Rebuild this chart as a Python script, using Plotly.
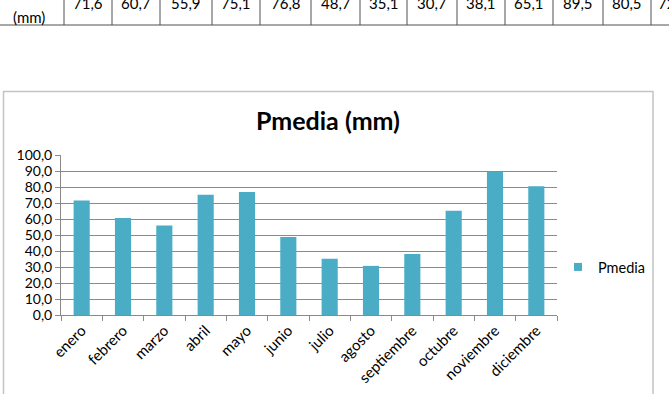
import plotly.graph_objects as go

# ---- data ----
months = ["enero", "febrero", "marzo", "abril", "mayo", "junio", "julio",
          "agosto", "septiembre", "octubre", "noviembre", "diciembre"]
pmedia = [71.6, 60.7, 55.9, 75.1, 76.8, 48.7, 35.1, 30.7, 38.1, 65.1, 89.5, 80.5]
y_ticks = [0, 10, 20, 30, 40, 50, 60, 70, 80, 90, 100]
series_name = "Pmedia"
chart_title = "Pmedia (mm)"
table_row_label = "(mm)"

# ---- layout helpers (pixel -> paper) ----
W, H = 669, 394
ML, MR, MT, MB = 61, 112, 155, 79
PW, PH = W - ML - MR, H - MT - MB


def px(x):
    return (x - ML) / PW


def py(y):
    return (H - MB - y) / PH


BAR = "#4BACC6"
GRID = "#8a8a8a"
FONT = "Lato"


def fmt(v):
    return f"{v:.1f}".replace(".", ",")


fig = go.Figure()
fig.add_trace(go.Bar(x=months, y=pmedia, name=series_name, marker_color=BAR,
                     marker_line_width=0, showlegend=False))
fig.add_trace(go.Scatter(x=[None], y=[None], mode="markers", name=series_name,
                         marker=dict(symbol="square", size=8, color=BAR)))

shapes = []
annotations = []

# chart outer border
shapes.append(dict(type="rect", xref="paper", yref="paper",
                   x0=px(3.5), x1=px(653), y0=py(91.5), y1=py(400),
                   line=dict(color="#c4c4c4", width=1.5), layer="below"))

# table fragment at top
cell_edges = [64, 112, 160, 212, 260, 311, 360, 407, 457, 505, 553, 603, 651]
shapes.append(dict(type="line", xref="paper", yref="paper",
                   x0=px(0), x1=px(669), y0=py(25), y1=py(25),
                   line=dict(color="#505050", width=1)))
for e in cell_edges:
    shapes.append(dict(type="line", xref="paper", yref="paper",
                       x0=px(e), x1=px(e), y0=py(-2), y1=py(25),
                       line=dict(color="#505050", width=1)))
annotations.append(dict(text=table_row_label, xref="paper", yref="paper",
                        x=px(29), y=py(16.5), xanchor="center", yanchor="middle",
                        showarrow=False, font=dict(family=FONT, size=15, color="#000")))
for i, v in enumerate(pmedia):
    cx = (cell_edges[i] + cell_edges[i + 1]) / 2
    annotations.append(dict(text=fmt(v), xref="paper", yref="paper",
                            x=px(cx), y=py(3), xanchor="center", yanchor="middle",
                            showarrow=False, font=dict(family=FONT, size=15, color="#000")))
annotations.append(dict(text=fmt(sum(pmedia)), xref="paper", yref="paper",
                        x=px(656), y=py(3), xanchor="left", yanchor="middle",
                        showarrow=False, font=dict(family=FONT, size=15, color="#000")))

fig.update_layout(
    width=W, height=H,
    margin=dict(l=ML, r=MR, t=MT, b=MB, pad=0, autoexpand=False),
    paper_bgcolor="white", plot_bgcolor="white",
    separators=", ",
    font=dict(family=FONT, size=14, color="#000"),
    title=dict(text=chart_title, xref="paper", x=px(328), xanchor="center",
               yref="container", y=1 - 121 / H, yanchor="middle",
               font=dict(family=FONT, size=25, color="#000", weight="bold")),
    bargap=0.61,
    showlegend=True,
    legend=dict(x=px(558), y=py(267), xanchor="left", yanchor="middle",
                xref="paper", yref="paper", bgcolor="rgba(0,0,0,0)",
                font=dict(family=FONT, size=14.5, color="#000"), itemwidth=30),
    shapes=shapes, annotations=annotations,
)
fig.update_xaxes(type="category", tickson="boundaries", ticks="outside", ticklen=5,
                 tickcolor=GRID, showline=True, linecolor=GRID, linewidth=1,
                 tickangle=-45, showgrid=False, automargin=False,
                 tickfont=dict(family=FONT, size=15))
fig.update_yaxes(range=[0, 100], tickvals=y_ticks, tickformat=".1f", ticks="outside",
                 ticklen=5, tickcolor=GRID, showline=True, linecolor=GRID, linewidth=1,
                 showgrid=True, gridcolor=GRID, gridwidth=1, zeroline=False,
                 automargin=False, tickfont=dict(family=FONT, size=14))

fig.write_html("out.html")
